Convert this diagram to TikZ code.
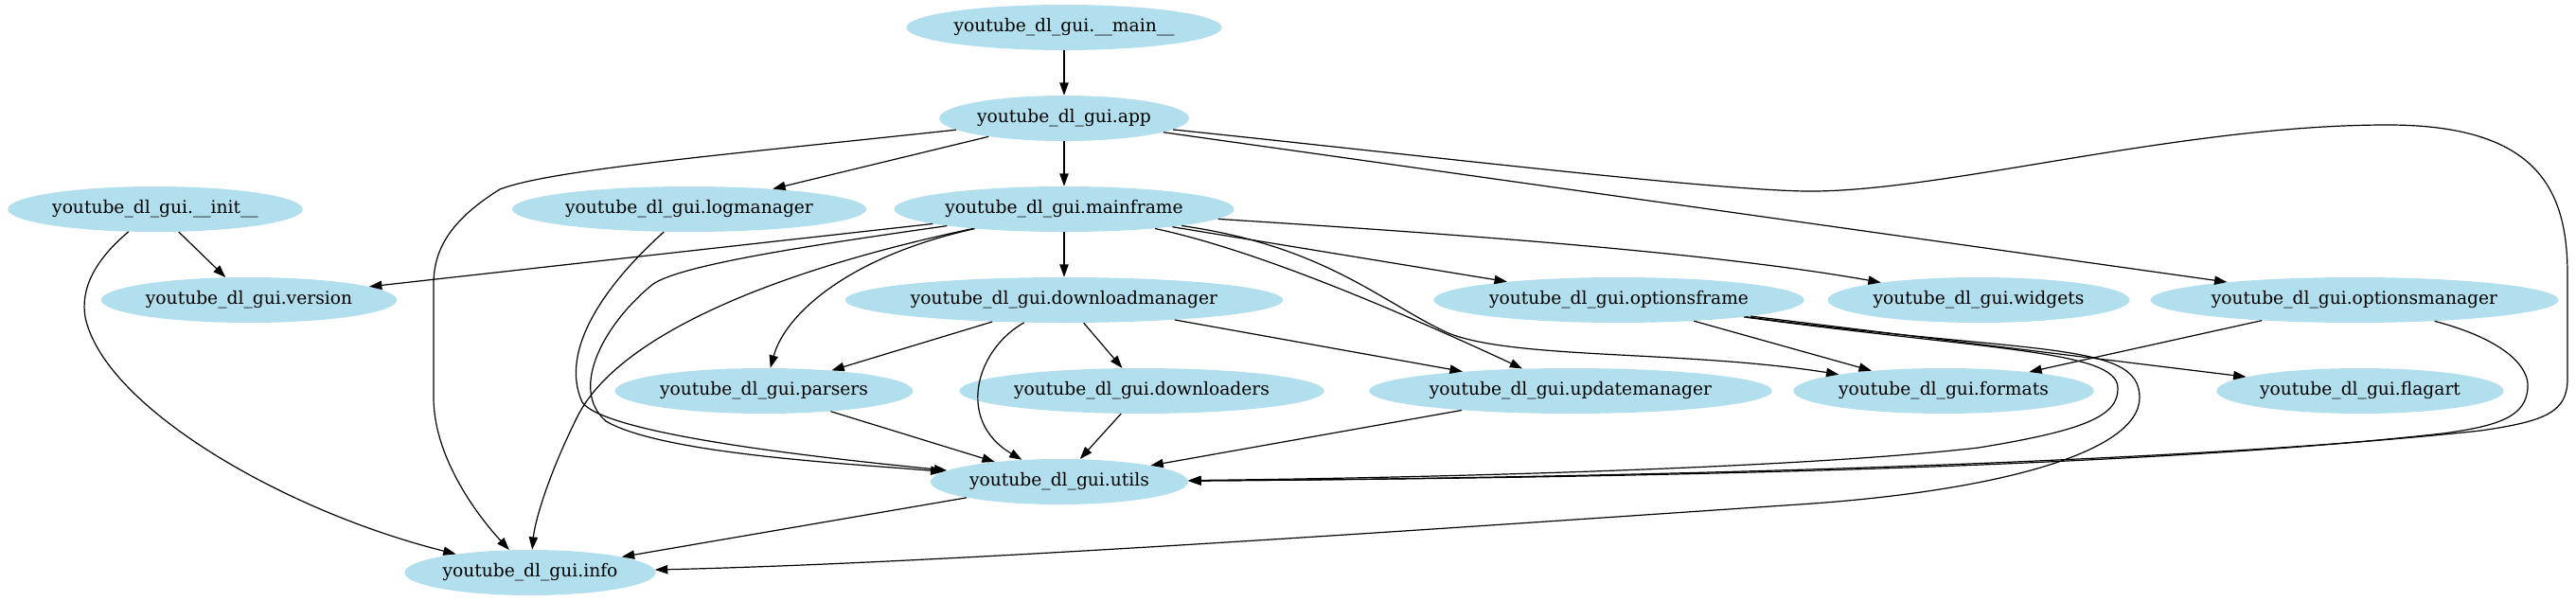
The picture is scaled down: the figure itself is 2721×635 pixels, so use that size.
\documentclass[tikz,border=0pt]{standalone}
\usepackage{fontspec}
\setmainfont{DejaVu Serif}
\usepackage{tikz}
\usetikzlibrary{shapes,arrows.meta}
\definecolor{lightblue2}{RGB}{178,223,238}

\begin{document}
\begin{tikzpicture}[x=0.75pt,y=-0.75pt]
    \tikzstyle{module}=[ellipse,fill=lightblue2,minimum height=36pt,inner xsep=1pt,inner ysep=0pt,font=\fontsize{14}{16}\selectfont]
    \tikzstyle{every node}=[module]
    \tikzstyle{dep}=[-{Triangle[length=10pt,width=7pt]},line width=0.9pt]
    \useasboundingbox (0,0) rectangle (2721,635);
    \node (main) at (1124,29) {youtube\_dl\_gui.\_\_main\_\_};
    \node (app) at (1124,125) {youtube\_dl\_gui.app};
    \node (init) at (164,221) {youtube\_dl\_gui.\_\_init\_\_};
    \node (logm) at (728,221) {youtube\_dl\_gui.logmanager};
    \node (mainf) at (1124,221) {youtube\_dl\_gui.mainframe};
    \node (version) at (263,317) {youtube\_dl\_gui.version};
    \node (dlm) at (1124,317) {youtube\_dl\_gui.downloadmanager};
    \node (optf) at (1710,317) {youtube\_dl\_gui.optionsframe};
    \node (widgets) at (2090,317) {youtube\_dl\_gui.widgets};
    \node (optm) at (2487,317) {youtube\_dl\_gui.optionsmanager};
    \node (parsers) at (807,413) {youtube\_dl\_gui.parsers};
    \node (dlers) at (1206,413) {youtube\_dl\_gui.downloaders};
    \node (updm) at (1659,413) {youtube\_dl\_gui.updatemanager};
    \node (formats) at (2053,413) {youtube\_dl\_gui.formats};
    \node (flagart) at (2493,413) {youtube\_dl\_gui.flagart};
    \node (utils) at (1119,509) {youtube\_dl\_gui.utils};
    \node (info) at (560,605) {youtube\_dl\_gui.info};

    \draw[dep] (main) -- (app);
    \draw[dep] (app) -- (mainf);
    \draw[dep] (app) -- (logm);
    \draw[dep] (app) .. controls (750,165) and (580,180) .. (528,200) .. controls (480,230) and (458,260) .. (458,300) -- (458,420) .. controls (458,480) and (500,540) .. (info);
    \draw[dep] (app) -- (optm);
    \draw[dep] (app) .. controls (1500,164) and (1800,200) .. (1906,202) .. controls (2050,204) and (2300,132) .. (2522,132) .. controls (2680,132) and (2712,200) .. (2712,290) -- (2712,400) .. controls (2712,435) and (2690,445) .. (2620,455) .. controls (2300,490) and (1700,505) .. (utils);
    \draw[dep] (init) -- (version);
    \draw[dep] (init) .. controls (100,275) and (85,305) .. (90,335) .. controls (110,430) and (300,540) .. (info);
    \draw[dep] (logm) .. controls (640,300) and (590,370) .. (615,425) .. controls (640,460) and (880,485) .. (utils);
    \draw[dep] (mainf) -- (version);
    \draw[dep] (mainf) -- (dlm);
    \draw[dep] (mainf) .. controls (900,270) and (830,330) .. (parsers);
    \draw[dep] (mainf) .. controls (800,290) and (650,360) .. (610,440) .. controls (580,500) and (565,550) .. (info);
    \draw[dep] (mainf) .. controls (850,260) and (720,280) .. (690,300) .. controls (640,340) and (600,410) .. (640,445) .. controls (700,480) and (900,490) .. (utils);
    \draw[dep] (mainf) .. controls (1330,265) and (1480,330) .. (updm);
    \draw[dep] (mainf) .. controls (1400,260) and (1460,320) .. (1530,352) .. controls (1600,380) and (1780,370) .. (formats);
    \draw[dep] (mainf) -- (optf);
    \draw[dep] (mainf) .. controls (1500,245) and (1800,265) .. (widgets);
    \draw[dep] (dlm) -- (parsers);
    \draw[dep] (dlm) .. controls (1030,370) and (1010,445) .. (utils);
    \draw[dep] (dlm) -- (dlers);
    \draw[dep] (dlm) -- (updm);
    \draw[dep] (optf) -- (formats);
    \draw[dep] (optf) -- (flagart);
    \draw[dep] (optf) .. controls (2100,370) and (2237,370) .. (2237,410) .. controls (2238,440) and (2200,455) .. (2090,473) .. controls (1900,495) and (1500,505) .. (utils);
    \draw[dep] (optf) .. controls (2150,375) and (2260,360) .. (2260,420) .. controls (2260,480) and (2100,520) .. (1900,533) .. controls (1500,560) and (1000,595) .. (info);
    \draw[dep] (optm) -- (formats);
    \draw[dep] (optm) .. controls (2650,360) and (2672,390) .. (2670,410) .. controls (2668,440) and (2640,450) .. (2580,458) .. controls (2250,495) and (1700,505) .. (utils);
    \draw[dep] (parsers) -- (utils);
    \draw[dep] (dlers) -- (utils);
    \draw[dep] (updm) -- (utils);
    \draw[dep] (utils) -- (info);
\end{tikzpicture}
\end{document}
